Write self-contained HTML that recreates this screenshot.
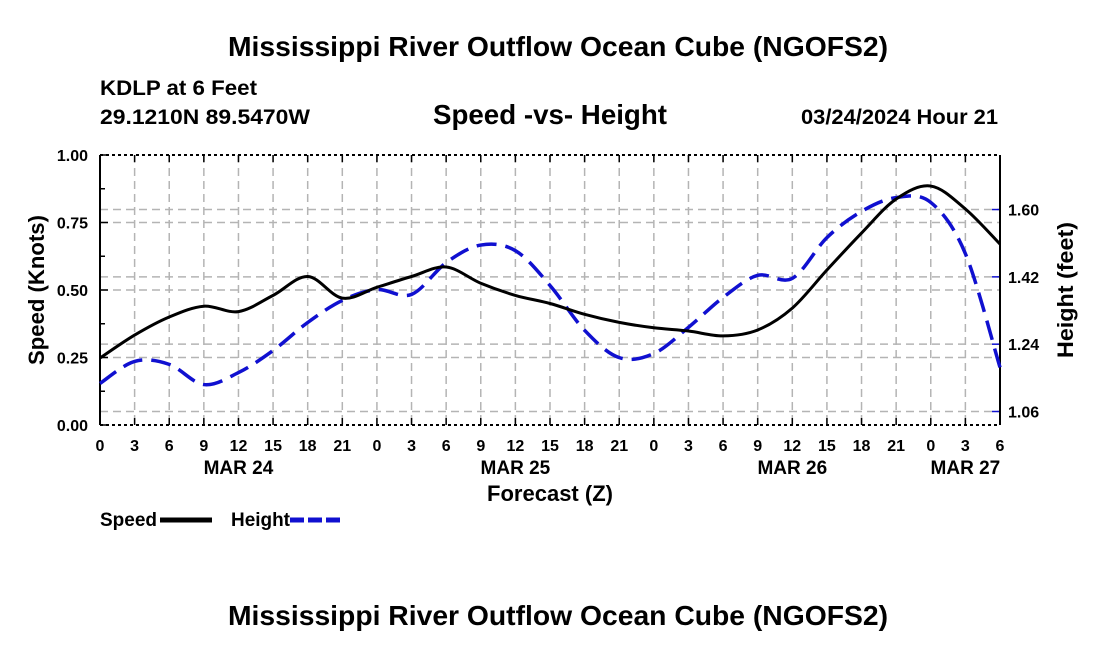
<!DOCTYPE html>
<html><head><meta charset="utf-8"><style>
body{margin:0;background:#fff;}
svg{display:block;font-family:"Liberation Sans",Arial,sans-serif;font-weight:bold;}
</style></head><body>
<svg id="chart" width="1100" height="650" viewBox="0 0 1100 650" xmlns="http://www.w3.org/2000/svg">
<text x="558" y="56" font-size="28" text-anchor="middle" textLength="660" lengthAdjust="spacingAndGlyphs">Mississippi River Outflow Ocean Cube (NGOFS2)</text>
<text x="100" y="95" font-size="21" textLength="157" lengthAdjust="spacingAndGlyphs">KDLP at 6 Feet</text>
<text x="100" y="124" font-size="21" textLength="210" lengthAdjust="spacingAndGlyphs">29.1210N  89.5470W</text>
<text x="550" y="124" font-size="28" text-anchor="middle" textLength="234" lengthAdjust="spacingAndGlyphs">Speed -vs- Height</text>
<text x="998" y="124" font-size="21" text-anchor="end" textLength="197" lengthAdjust="spacingAndGlyphs">03/24/2024 Hour 21</text>
<g id="grid"></g><g id="axes"></g><g id="series"></g>
<text transform="translate(44,290) rotate(-90)" font-size="22" text-anchor="middle" textLength="150" lengthAdjust="spacingAndGlyphs">Speed (Knots)</text>
<text transform="translate(1073,290) rotate(-90)" font-size="22" text-anchor="middle" textLength="136" lengthAdjust="spacingAndGlyphs">Height (feet)</text>
<text x="550" y="501" font-size="22" text-anchor="middle" textLength="126" lengthAdjust="spacingAndGlyphs">Forecast (Z)</text>
<g>
<text x="100" y="526" font-size="19" textLength="57" lengthAdjust="spacingAndGlyphs">Speed</text>
<line x1="160" y1="520" x2="212" y2="520" stroke="#000" stroke-width="5"/>
<text x="231" y="526" font-size="19" textLength="59" lengthAdjust="spacingAndGlyphs">Height</text>
<line x1="290" y1="520" x2="342" y2="520" stroke="#1010d0" stroke-width="5" stroke-dasharray="14,4"/>
</g>
<text x="558" y="625" font-size="28" text-anchor="middle" textLength="660" lengthAdjust="spacingAndGlyphs">Mississippi River Outflow Ocean Cube (NGOFS2)</text>
</svg>
<script>
const hours=[0,3,6,9,12,15,18,21,24,27,30,33,36,39,42,45,48,51,54,57,60,63,66,69,72,75,78];
const speed=[0.248,0.333,0.40,0.44,0.42,0.48,0.55,0.47,0.51,0.55,0.585,0.525,0.48,0.45,0.41,0.38,0.36,0.348,0.33,0.352,0.433,0.574,0.711,0.837,0.885,0.80,0.67];
const height=[1.135,1.194,1.186,1.132,1.164,1.223,1.298,1.357,1.386,1.373,1.458,1.505,1.49,1.397,1.277,1.204,1.215,1.285,1.365,1.424,1.416,1.525,1.595,1.632,1.619,1.482,1.178];
const xTickLabels=["0","3","6","9","12","15","18","21","0","3","6","9","12","15","18","21","0","3","6","9","12","15","18","21","0","3","6"];
const dayLabels=["MAR 24","MAR 25","MAR 26","MAR 27"];
const dayHours=[12,36,60,75];
const speedTicks=[0,0.25,0.5,0.75,1.0];
const heightTicks=[1.06,1.24,1.42,1.60];
const X0=100,X1=1000,Y0=425,Y1=155;
const xs=h=>X0+(h/78)*(X1-X0);
const ys=v=>Y0-(v/1.0)*(Y0-Y1);
const H0=1.06,Hy0=411.5,Hpx=374;
const yh=v=>Hy0-(v-H0)*Hpx;
const NS="http://www.w3.org/2000/svg";
function mk(t,a,p){const e=document.createElementNS(NS,t);for(const k in a)e.setAttribute(k,a[k]);p.appendChild(e);return e;}
const grid=document.getElementById('grid'),axes=document.getElementById('axes'),series=document.getElementById('series');
const gs={stroke:"#b4b4b4","stroke-width":1.5,"stroke-dasharray":"8,5"};
hours.forEach((h,i)=>{
  if(i>0&&i<hours.length-1){const l=mk('line',Object.assign({x1:xs(h),x2:xs(h),y1:Y1,y2:Y0},gs),grid);
  
  }
  const t=mk('line',{x1:xs(h),x2:xs(h),y1:Y0,y2:Y0-7,stroke:"#000","stroke-width":1.5},axes);
  
  
  mk('line',{x1:xs(h),x2:xs(h),y1:Y1,y2:Y1+7,stroke:"#000","stroke-width":1.5},axes);
  const tx=mk('text',{x:xs(h),y:451,"font-size":16,"text-anchor":"middle"},axes);tx.textContent=xTickLabels[i];
  
  
});
dayLabels.forEach((d,i)=>{const t=mk('text',{x:xs(dayHours[i]),y:474,"font-size":19,"text-anchor":"middle"},axes);t.textContent=d;
  
  });
speedTicks.forEach(v=>{
  if(v>0&&v<1){const l=mk('line',Object.assign({x1:X0,x2:X1,y1:ys(v),y2:ys(v)},gs),grid);
  
  }
  mk('line',{x1:X0,x2:X0+8,y1:ys(v),y2:ys(v),stroke:"#000","stroke-width":1.5},axes);
  const t=mk('text',{x:X0-12,y:ys(v)+6,"font-size":16,"text-anchor":"end"},axes);t.textContent=v.toFixed(2);
  
  
});
for(let v=0.125;v<1;v+=0.25)mk('line',{x1:X0,x2:X0+5,y1:ys(v),y2:ys(v),stroke:"#000","stroke-width":1.5},axes);
heightTicks.forEach(v=>{
  const l=mk('line',Object.assign({x1:X0,x2:X1,y1:yh(v),y2:yh(v)},gs),grid);
  
  
  mk('line',{x1:X1-8,x2:X1,y1:yh(v),y2:yh(v),stroke:"#1010d0","stroke-width":1.5},axes);
  const t=mk('text',{x:X1+8,y:yh(v)+6,"font-size":16},axes);t.textContent=v.toFixed(2);
  
  
});
mk('line',{x1:X0,x2:X1,y1:Y1,y2:Y1,stroke:"#000","stroke-width":2,"stroke-dasharray":"3,3"},axes);
mk('line',{x1:X0,x2:X1,y1:Y0,y2:Y0,stroke:"#000","stroke-width":2,"stroke-dasharray":"3,3"},axes);
mk('line',{x1:X0,x2:X0,y1:Y1,y2:Y0,stroke:"#000","stroke-width":2},axes);
mk('line',{x1:X1,x2:X1,y1:Y1,y2:Y0,stroke:"#000","stroke-width":2},axes);
function spline(pts){let d=`M${pts[0][0]},${pts[0][1]}`;
  for(let i=0;i<pts.length-1;i++){const p0=pts[Math.max(0,i-1)],p1=pts[i],p2=pts[i+1],p3=pts[Math.min(pts.length-1,i+2)];
  d+=` C${p1[0]+(p2[0]-p0[0])/6},${p1[1]+(p2[1]-p0[1])/6} ${p2[0]-(p3[0]-p1[0])/6},${p2[1]-(p3[1]-p1[1])/6} ${p2[0]},${p2[1]}`;}
  return d;}
const hp=mk('path',{d:spline(hours.map((h,i)=>[xs(h),yh(height[i])])),fill:"none",stroke:"#1010d0","stroke-width":3.5,"stroke-dasharray":"20,9"},series);


const sp=mk('path',{d:spline(hours.map((h,i)=>[xs(h),ys(speed[i])])),fill:"none",stroke:"#000","stroke-width":3},series);


</script>
</body></html>
